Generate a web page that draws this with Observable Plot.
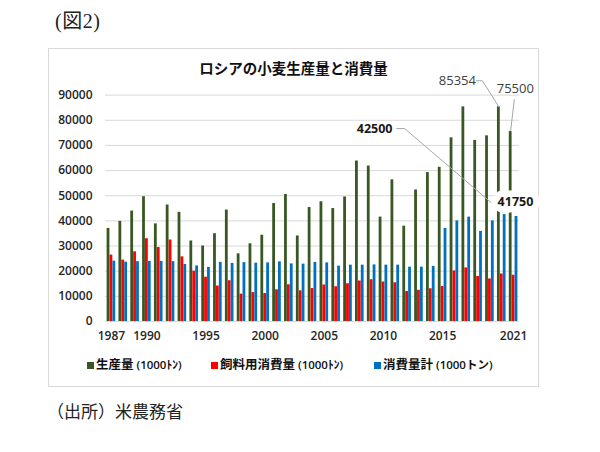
<!DOCTYPE html>
<html><head><meta charset="utf-8">
<script src="https://cdn.jsdelivr.net/npm/d3@7"></script>
<script src="https://cdn.jsdelivr.net/npm/@observablehq/plot@0.6"></script>
<style>
html,body{margin:0;padding:0;background:#fff;}
body{width:600px;height:452px;position:relative;overflow:hidden;font-family:"Noto Sans CJK JP",sans-serif;color:#222;}
#fig{position:absolute;left:55px;top:8px;font-size:20px;letter-spacing:0.5px;line-height:26px;font-family:"Liberation Serif","Noto Sans CJK JP",serif;}
#box{position:absolute;left:48px;top:48px;width:491px;height:339px;box-sizing:border-box;border:1px solid #d9d9d9;}
#title{position:absolute;left:48px;width:491px;top:58px;text-align:center;font-size:14.5px;font-weight:bold;line-height:20px;color:#111;}
#chart{position:absolute;left:48px;top:60px;}
.leg{position:absolute;top:355px;font-size:12.5px;line-height:18px;white-space:nowrap;color:#111;}
.leg .sw{display:inline-block;width:7px;height:7px;margin-right:2px;vertical-align:0px;}
.leg b{font-weight:bold;}
.leg span.u{font-family:"Open Sans","Noto Sans CJK JP",sans-serif;font-size:11.5px;font-weight:600;}
#cap{position:absolute;left:47px;top:399px;font-size:17px;line-height:24px;color:#222;}
</style>
</head><body>
<div id="fig">(図2)</div>
<div id="box"></div>
<div id="chart"></div>
<div id="title">ロシアの小麦生産量と消費量</div>
<div id="legend"></div>
<div id="cap">（出所）米農務省</div>
<script>
// ---- data ----
const years = [1987,1988,1989,1990,1991,1992,1993,1994,1995,1996,1997,1998,1999,2000,2001,2002,2003,2004,2005,2006,2007,2008,2009,2010,2011,2012,2013,2014,2015,2016,2017,2018,2019,2020,2021];
const production = [37000,39800,43900,49600,38800,46300,43400,32000,30000,34900,44300,26900,30900,34300,46900,50500,34000,45300,47600,44900,49500,63800,61800,41500,56300,37900,52300,59200,61300,73000,85300,72000,73800,85354,75500];
const feedUse = [26400,24400,27700,32900,29400,32400,25700,20000,17600,14100,16200,10900,11500,11100,12600,14600,12200,13100,14500,13800,15000,16100,16600,15700,15400,11900,12400,13000,13900,20100,21300,17900,16900,18900,18400];
const totalUse = [24000,23600,23800,23900,23900,23800,22700,22100,21500,23500,23100,23400,23200,23300,23700,22900,22800,23500,23300,22000,22400,22400,22500,22400,22400,21600,21600,21900,37000,40000,41500,35800,40000,42500,41750];
const seriesNames = ["生産量","飼料用消費量","消費量計"];
const seriesUnits = [" (1000ﾄﾝ)"," (1000ﾄﾝ)"," (1000トン)"];
const xTicks = [1987,1990,1995,2000,2005,2010,2015,2021];
const yTicks = [0,10000,20000,30000,40000,50000,60000,70000,80000,90000];
const callouts = [
  {label:"85354", year:2020, series:"生産量", value:85354},
  {label:"75500", year:2021, series:"生産量", value:75500},
  {label:"42500", year:2020, series:"消費量計", value:42500},
  {label:"41750", year:2021, series:"消費量計", value:41750}
];

// ---- styles / layout ----
const colors = ["#385723","#ff0000","#0070c0"];
const W = 491, H = 291, mL = 57, mR = 20, mT = 34.6, mB = 30;
const xDom = [1986.5, 2021.5], yDom = [0, 90000];
const pxPerYear = (W - mL - mR) / (xDom[1] - xDom[0]);
const pxPerUnit = (H - mT - mB) / (yDom[1] - yDom[0]);
const step = 0.245, half = 0.118;
const offset = s => (seriesNames.indexOf(s) - 1) * step;
const calloutStyle = {
  "85354": {dx:-41.5, dy:-26, bold:false, fill:"#404040", leader:[[-22.5,-26],[-16.5,-26],[0,0]]},
  "75500": {dx:4.6, dy:-43, bold:false, fill:"#404040", leader:[[3.6,-32],[0,-1]]},
  "42500": {dx:-130, dy:-86, bold:true, fill:"#1a1a1a", leader:[[-108,-86],[-100,-86],[-3,-3]]},
  "41750": {dx:-1, dy:-14, bold:true, fill:"#1a1a1a", leader:[], halo:true}
};

const rows = [];
[production, feedUse, totalUse].forEach((arr, k) => {
  arr.forEach((v, i) => rows.push({year: years[i], series: seriesNames[k], value: v}));
});

const leaderPts = [];
callouts.forEach(c => {
  const st = calloutStyle[c.label];
  const bx = c.year + offset(c.series);
  st.leader.forEach(([ox, oy]) => leaderPts.push({id: c.label, x: bx + ox / pxPerYear, y: c.value - oy / pxPerUnit}));
});

const marks = [
  Plot.ruleY(yTicks, {stroke: "#d9d9d9", strokeWidth: 1}),
  Plot.rectY(rows, {
    x1: d => d.year + offset(d.series) - half,
    x2: d => d.year + offset(d.series) + half,
    y: "value", fill: "series"
  }),
  Plot.line(leaderPts, {x: "x", y: "y", z: "id", stroke: "#a6a6a6", strokeWidth: 1})
];
callouts.forEach(c => {
  const st = calloutStyle[c.label];
  const opts = {
    x: d => d.year + offset(d.series), y: "value", text: "label",
    dx: st.dx, dy: st.dy, fill: st.fill,
    fontSize: st.bold ? 12.5 : 13, fontWeight: st.bold ? "bold" : "normal",
    fontFamily: "'Open Sans', sans-serif", letterSpacing: st.bold ? 0 : 0.8
  };
  if (st.halo) Object.assign(opts, {stroke: "white", strokeWidth: 13, paintOrder: "stroke", strokeLinejoin: "round"});
  marks.push(Plot.text([c], opts));
});

const chart = Plot.plot({
  width: W, height: H,
  marginLeft: mL, marginRight: mR, marginTop: mT, marginBottom: mB,
  style: {fontFamily: "'Open Sans', sans-serif", fontSize: "12px", fontWeight: "600", color: "#262626", background: "transparent", overflow: "visible"},
  x: {domain: xDom, ticks: xTicks, tickFormat: d => String(d), tickSize: 0, tickPadding: 10, label: null},
  y: {domain: yDom, ticks: yTicks, tickFormat: d => String(d), tickSize: 0, tickPadding: 13, label: null},
  color: {domain: seriesNames, range: colors},
  marks
});
document.getElementById("chart").appendChild(chart);

// legend
const legLeft = [87, 211, 374];
const legend = document.getElementById("legend");
seriesNames.forEach((s, k) => {
  const el = document.createElement("div");
  el.className = "leg";
  el.style.left = legLeft[k] + "px";
  el.innerHTML = `<span class="sw" style="background:${colors[k]}"></span><b>${s}</b><span class="u">${seriesUnits[k]}</span>`;
  legend.appendChild(el);
});
</script>
</body></html>
